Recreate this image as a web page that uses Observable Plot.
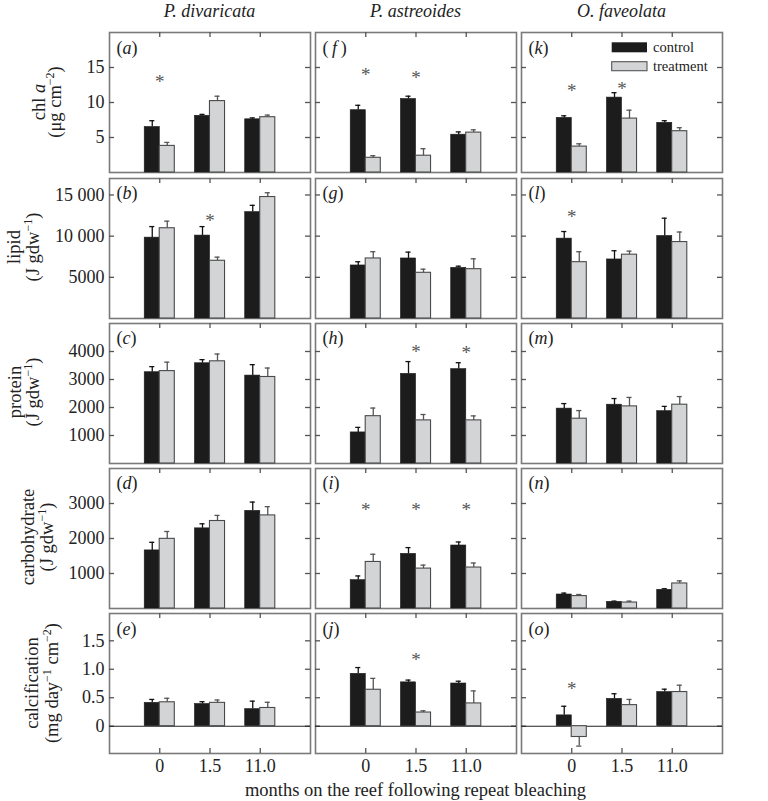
<!DOCTYPE html>
<html><head><meta charset="utf-8">
<script src="https://cdn.jsdelivr.net/npm/d3@7"></script>
<script src="https://cdn.jsdelivr.net/npm/@observablehq/plot@0.6"></script>
<style>
body{margin:0;background:#fff;}
#fig{position:relative;width:768px;height:801px;font-family:"Liberation Serif",serif;overflow:hidden;}
#fig > svg{position:absolute;}
</style></head><body><div id="fig"></div><script>
// ---- categories ----
const months = ["0", "1.5", "11.0"];
const species = ["P. divaricata", "P. astreoides", "O. faveolata"];
const metrics = ["chl a", "lipid", "protein", "carbohydrate", "calcification"];
const panelLetters = [["a","f","k"],["b","g","l"],["c","h","m"],["d","i","n"],["e","j","o"]];
const groups = ["control", "treatment"];

// ---- values: [species][month] ----
const chlControl     = [[6.5, 8.1, 7.6], [8.9, 10.5, 5.4], [7.8, 10.7, 7.1]];
const chlControlSE   = [[0.9, 0.2, 0.2], [0.7, 0.4, 0.4], [0.3, 0.7, 0.3]];
const chlTreatment   = [[3.8, 10.2, 7.9], [2.1, 2.4, 5.7], [3.7, 7.7, 5.9]];
const chlTreatmentSE = [[0.5, 0.7, 0.3], [0.3, 1.0, 0.4], [0.4, 1.2, 0.5]];

const lipidControl     = [[9820, 10070, 12920], [6440, 7290, 6150], [9700, 7170, 10020]];
const lipidControlSE   = [[1340, 1090, 820], [450, 770, 200], [860, 1060, 2160]];
const lipidTreatment   = [[10960, 7010, 14750], [7290, 5550, 5990], [6840, 7750, 9280]];
const lipidTreatmentSE = [[860, 440, 520], [820, 440, 1260], [1270, 430, 1220]];

const proteinControl     = [[3260, 3580, 3140], [1110, 3200, 3370], [1960, 2100, 1870]];
const proteinControlSE   = [[200, 130, 390], [180, 440, 230], [180, 220, 170]];
const proteinTreatment   = [[3300, 3650, 3090], [1690, 1540, 1540], [1600, 2040, 2100]];
const proteinTreatmentSE = [[320, 260, 320], [290, 210, 160], [290, 320, 290]];

const carbControl     = [[1660, 2290, 2790], [810, 1560, 1800], [400, 190, 535]];
const carbControlSE   = [[230, 130, 250], [120, 180, 100], [40, 20, 30]];
const carbTreatment   = [[1990, 2500, 2660], [1330, 1140, 1170], [355, 170, 715]];
const carbTreatmentSE = [[210, 160, 250], [220, 100, 130], [45, 40, 75]];

const calcControl     = [[0.41, 0.39, 0.30], [0.92, 0.77, 0.75], [0.19, 0.48, 0.60]];
const calcControlSE   = [[0.06, 0.04, 0.14], [0.11, 0.04, 0.04], [0.16, 0.09, 0.05]];
const calcTreatment   = [[0.42, 0.41, 0.32], [0.64, 0.24, 0.40], [-0.19, 0.37, 0.60]];
const calcTreatmentSE = [[0.07, 0.05, 0.10], [0.20, 0.03, 0.22], [0.16, 0.10, 0.12]];

// significance asterisks: [species index, month, height]
const sigChl     = [[0, "0", 13.3], [1, "0", 14.3], [1, "1.5", 13.9], [2, "0", 12.1], [2, "1.5", 12.3]];
const sigLipid   = [[0, "1.5", 12180], [2, "0", 12760]];
const sigProtein = [[1, "1.5", 4110], [1, "11.0", 4050]];
const sigCarb    = [[1, "0", 2890], [1, "1.5", 2890], [1, "11.0", 2890]];
const sigCalc    = [[1, "1.5", 1.22], [2, "0", 0.71]];

// ---- axes ----
const yDomains = [[0, 20], [0, 17000], [0, 5000], [0, 4000], [-0.48, 1.98]];
const yTickValues = [[5, 10, 15], [5000, 10000, 15000], [1000, 2000, 3000, 4000], [1000, 2000, 3000], [0, 0.5, 1.0, 1.5]];
const yTickFormats = [
  d => String(d),
  d => d >= 10000 ? d3.format(",")(d).replace(",", " ") : String(d),
  d => String(d),
  d => String(d),
  d => d === 0 ? "0" : d.toFixed(1)
];

const valueSets = [
  [chlControl, chlControlSE, chlTreatment, chlTreatmentSE, sigChl],
  [lipidControl, lipidControlSE, lipidTreatment, lipidTreatmentSE, sigLipid],
  [proteinControl, proteinControlSE, proteinTreatment, proteinTreatmentSE, sigProtein],
  [carbControl, carbControlSE, carbTreatment, carbTreatmentSE, sigCarb],
  [calcControl, calcControlSE, calcTreatment, calcTreatmentSE, sigCalc]
];

// ---- layout ----
const colX = [109, 315, 521];
const rowY = [32.3, 177.5, 322.7, 467.9, 613.1];
const PW = 201, PH = 140;
const fig = document.getElementById("fig");

const errEnd = d => d.value + Math.sign(d.value) * d.se;

for (let r = 0; r < 5; r++) {
  const [cm, cs, tm, ts, sig] = valueSets[r];
  for (let c = 0; c < 3; c++) {
    const ctrl = months.map((m, i) => ({month: m, group: "control", value: cm[c][i], se: cs[c][i]}));
    const trt = months.map((m, i) => ({month: m, group: "treatment", value: tm[c][i], se: ts[c][i]}));
    const stars = sig.filter(s => s[0] === c).map(s => ({month: s[1], y: s[2]}));
    const ml = c === 0 ? 70 : 1, mr = 1, mt = 1, mb = r === 4 ? 30 : 1;
    const tickStroke = {stroke: "#555", strokeWidth: 1.3};
    const plot = Plot.plot({
      width: PW + ml + mr, height: PH + mt + mb,
      marginLeft: ml, marginRight: mr, marginTop: mt, marginBottom: mb,
      x: {type: "band", domain: months, paddingInner: 0.7, paddingOuter: 0.85, round: false, axis: r === 4 ? undefined : null},
      y: {domain: yDomains[r], axis: c === 0 ? undefined : null},
      style: {fontFamily: "'Liberation Serif', serif", fontSize: "18px", color: "#222", background: "transparent", overflow: "visible"},
      marks: [
        Plot.frame({stroke: "#7a7a7a", strokeWidth: 1.6}),
        Plot.ruleY(yTickValues[r], {insetRight: PW - 5, ...tickStroke}),
        Plot.ruleY(yTickValues[r], {insetLeft: PW - 5, ...tickStroke}),
        Plot.ruleX(months, {insetBottom: PH - 5, ...tickStroke}),
        Plot.ruleX(months, {insetTop: PH - 5, ...tickStroke}),
        c === 0 ? Plot.axisY({ticks: yTickValues[r], tickSize: 0, tickPadding: 5, tickFormat: yTickFormats[r], label: null}) : null,
        r === 4 ? Plot.axisX({tickSize: 0, tickPadding: 6, label: null}) : null,
        r === 4 ? Plot.ruleY([0], {stroke: "#222", strokeWidth: 1.1}) : null,
        Plot.ruleX(ctrl, {x: "month", y1: "value", y2: errEnd, dx: -7.5, stroke: "#111", strokeWidth: 1.3}),
        Plot.tickY(ctrl, {x: "month", y: errEnd, dx: -7.5, insetLeft: 5, insetRight: 5, stroke: "#111", strokeWidth: 1.3}),
        Plot.ruleX(trt, {x: "month", y1: "value", y2: errEnd, dx: 7.5, stroke: "#555", strokeWidth: 1.3}),
        Plot.tickY(trt, {x: "month", y: errEnd, dx: 7.5, insetLeft: 5, insetRight: 5, stroke: "#555", strokeWidth: 1.3}),
        Plot.barY(ctrl, {x: "month", y1: 0, y2: "value", dx: -7.5, fill: "#1c1c1c", stroke: "#1c1c1c", strokeWidth: 0.6}),
        Plot.barY(trt, {x: "month", y1: 0, y2: "value", dx: 7.5, fill: "#d3d4d6", stroke: "#4a4a4a", strokeWidth: 1.1}),
        Plot.text(stars, {x: "month", y: "y", text: () => "*", fontSize: 19, fill: "#555", dy: 3})
      ]
    });
    plot.style.left = (colX[c] - ml) + "px";
    plot.style.top = (rowY[r] - mt) + "px";
    plot.style.position = "absolute";
    fig.appendChild(plot);
  }
}

// ---- text overlay: titles, y labels, panel letters, legend ----
const ov = d3.select(fig).append("svg")
  .attr("width", 768).attr("height", 801)
  .style("left", "0px").style("top", "0px").style("position", "absolute")
  .style("pointer-events", "none")
  .attr("font-family", "'Liberation Serif', serif").attr("fill", "#222");

const colCenter = colX.map(x => x + PW / 2);
species.forEach((s, i) => {
  ov.append("text").attr("x", colCenter[i]).attr("y", 16.5).attr("text-anchor", "middle")
    .attr("font-size", 18).attr("font-style", "italic").text(s);
});

ov.append("text").attr("x", colCenter[1]).attr("y", 796).attr("text-anchor", "middle")
  .attr("font-size", 18.5).text("months on the reef following repeat bleaching");

// panel letters
for (let r = 0; r < 5; r++) for (let c = 0; c < 3; c++) {
  const t = ov.append("text").attr("x", colX[c] + 7.5).attr("y", rowY[r] + 21.5).attr("font-size", 18);
  const L = panelLetters[r][c];
  const pad = L === "f" ? "\u2009" : "";
  t.append("tspan").text("(" + pad);
  t.append("tspan").attr("font-style", "italic").text(L);
  t.append("tspan").text(pad + ")");
}

// y labels: [line1 baseline x, line2 baseline x, center y]
const yLabelPos = [[45, 61, 102], [20, 39, 247], [21, 39, 392], [34, 53, 537], [38, 58, 683]];
const units = [
  [["(μg cm", 0], ["−2", 1], [")", 0]],
  [["(J gdw", 0], ["−1", 1], [")", 0]],
  [["(J gdw", 0], ["−1", 1], [")", 0]],
  [["(J gdw", 0], ["−1", 1], [")", 0]],
  [["(mg day", 0], ["−1", 1], [" cm", 0], ["−2", 1], [")", 0]]
];
metrics.forEach((m, r) => {
  const [x1, x2, cy] = yLabelPos[r];
  const t1 = ov.append("text").attr("transform", `translate(${x1},${cy}) rotate(-90)`)
    .attr("text-anchor", "middle").attr("font-size", 18.5);
  if (m === "chl a") {
    t1.append("tspan").text("chl ");
    t1.append("tspan").attr("font-style", "italic").text("a");
  } else t1.text(m);
  const t2 = ov.append("text").attr("transform", `translate(${x2},${cy}) rotate(-90)`)
    .attr("text-anchor", "middle").attr("font-size", 18.5);
  let shifted = false;
  units[r].forEach(([s, sup]) => {
    const sp = t2.append("tspan").text(s);
    if (sup) { sp.attr("font-size", 12).attr("dy", "-7px"); shifted = true; }
    else if (shifted) { sp.attr("dy", "7px"); shifted = false; }
  });
});

// legend inside panel (k)
const lg = ov.append("g");
lg.append("rect").attr("x", 611.7).attr("y", 42.3).attr("width", 35.3).attr("height", 10).attr("fill", "#1c1c1c");
lg.append("rect").attr("x", 611.7).attr("y", 61.7).attr("width", 35.3).attr("height", 9).attr("fill", "#d3d4d6").attr("stroke", "#555").attr("stroke-width", 1.1);
lg.append("text").attr("x", 653).attr("y", 51.5).attr("font-size", 14.5).text(groups[0]);
lg.append("text").attr("x", 653).attr("y", 70.5).attr("font-size", 14.5).text(groups[1]);
</script></body></html>
